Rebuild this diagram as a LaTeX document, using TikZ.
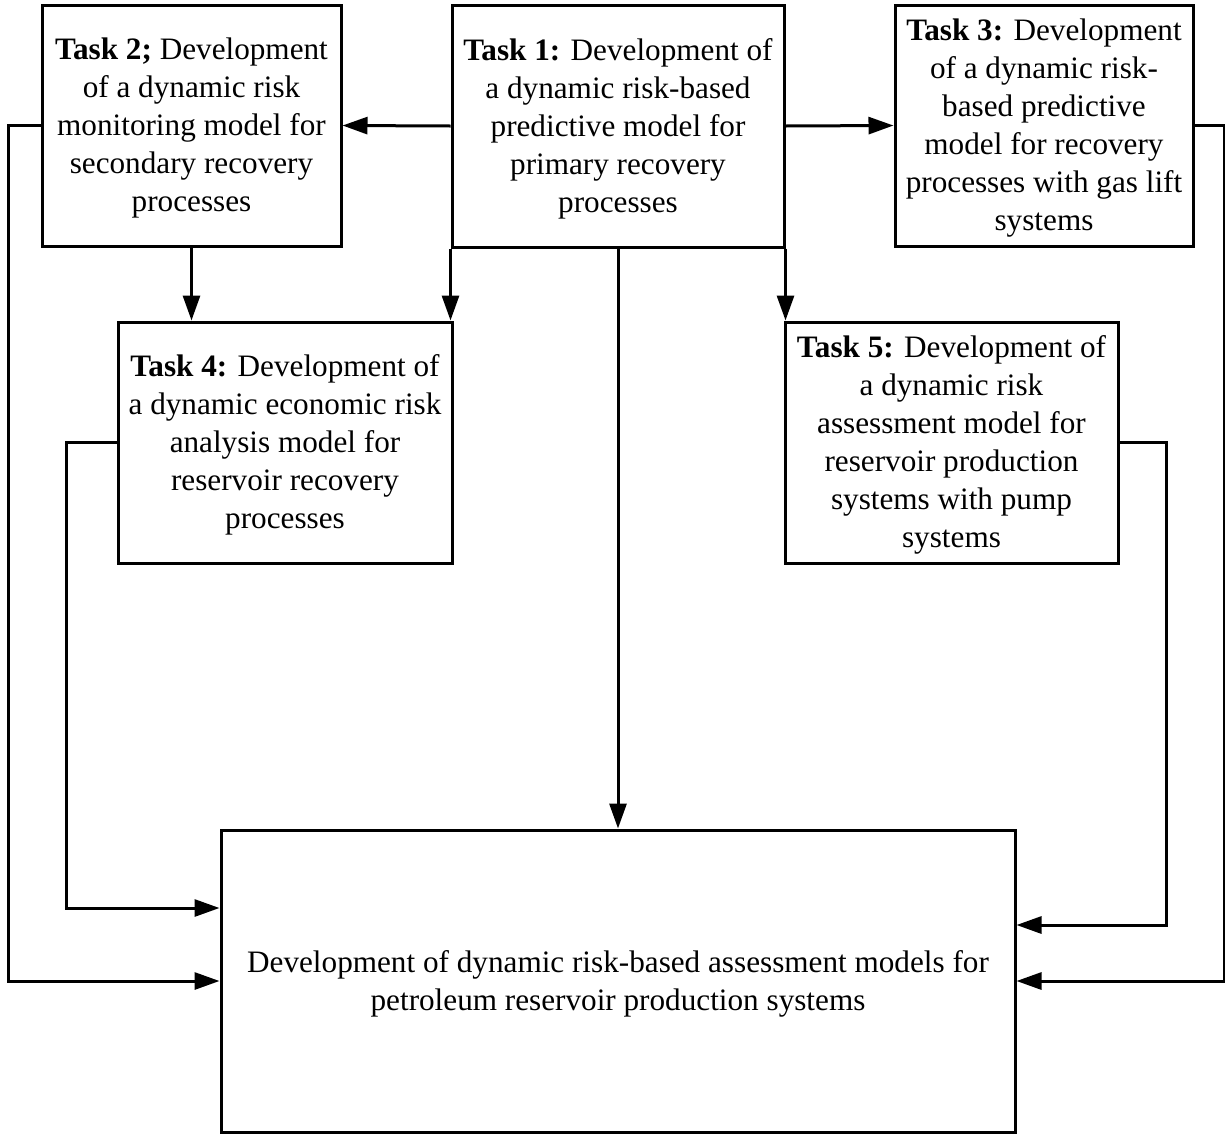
\documentclass[tikz,border=0pt]{standalone}
\usepackage{fontspec}
\setmainfont{Liberation Serif}
\usetikzlibrary{arrows.meta,positioning,calc}
% a little extra room above the first line of each box
\newcommand\topgap{\rule{0pt}{13.8pt}}
\begin{document}
\begin{tikzpicture}[x=0.5pt,y=-0.5pt,
  task/.style={draw,line width=1.5pt,align=center,inner sep=0pt,
    font=\fontsize{15.6}{19}\selectfont},
  arr/.style={line width=1.5pt,-{Triangle[length=12.5pt,width=8.5pt]}}]
\useasboundingbox (0,0) rectangle (1225,1141);

% task boxes, each placed by its centre with its outer size
\node[task,minimum width=166pt,minimum height=121pt] (t1) at (618,126)
  {\topgap\textbf{Task 1:} Development of\\a dynamic risk-based\\predictive model for\\primary recovery\\processes};
\node[task,minimum width=149.5pt,minimum height=120.5pt] (t2) at (191.5,125.5)
  {\topgap\textbf{Task 2;} Development\\of a dynamic risk\\monitoring model for\\secondary recovery\\processes};
\node[task,minimum width=149pt,minimum height=120.5pt] (t3) at (1044,125.5)
  {\topgap\textbf{Task 3:} Development\\of a dynamic risk-\\based predictive\\model for recovery\\processes with gas lift\\systems};
\node[task,minimum width=167pt,minimum height=120.5pt] (t4) at (285,442.5)
  {\topgap\textbf{Task 4:} Development of\\a dynamic economic risk\\analysis model for\\reservoir recovery\\processes};
\node[task,minimum width=166.5pt,minimum height=120.5pt] (t5) at (951.5,442.5)
  {\topgap\textbf{Task 5:} Development of\\a dynamic risk\\assessment model for\\reservoir production\\systems with pump\\systems};
\node[task,minimum width=397pt,minimum height=151pt] (bot) at (618,981)
  {\topgap Development of dynamic risk-based assessment models for\\petroleum reservoir production systems};

% direct links between tasks
\draw[arr] (t1.west) -- (t2.east);
\draw[arr] (t1.east) -- (t3.west);
\draw[arr] (t2.south) -- (t2.south |- t4.north);
\draw[arr] (t1.south west) -- (t1.south west |- t4.north);
\draw[arr] (t1.south east) -- (t1.south east |- t5.north);
\draw[arr] (t1.south) -- (bot.north);

% feedback routes into the final model
\draw[arr] (t2.west) -- ++(-32,0) |- (bot.west);
\draw[arr] (t4.west) -- ++(-50,0) |- ([yshift=36.5pt]bot.west);
\draw[arr] (t5.east) -- ++(47,0) |- ([yshift=28pt]bot.east);
\draw[arr] (t3.east) -- ++(30,0) |- (bot.east);
\end{tikzpicture}
\end{document}
